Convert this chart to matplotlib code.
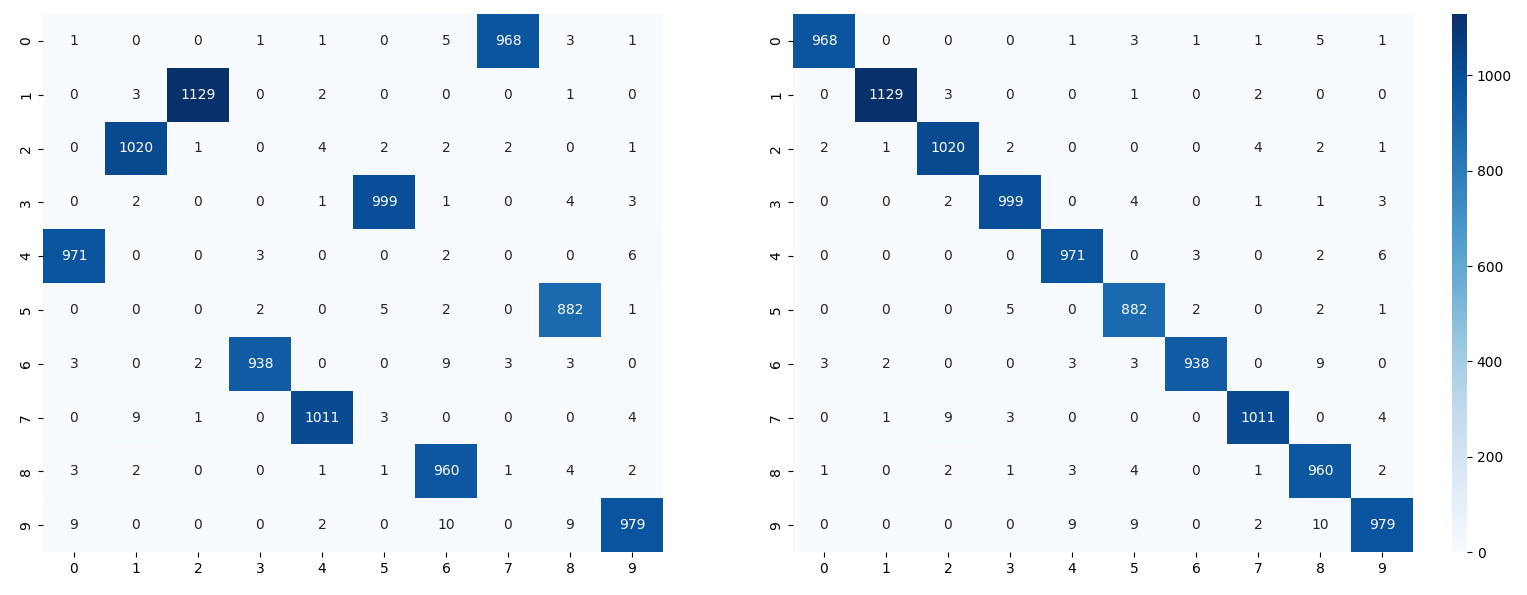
import numpy as np
import matplotlib
matplotlib.use("Agg")
import matplotlib.pyplot as plt
import seaborn as sns

labels = list(range(10))

left_matrix = [
    [1, 0, 0, 1, 1, 0, 5, 968, 3, 1],
    [0, 3, 1129, 0, 2, 0, 0, 0, 1, 0],
    [0, 1020, 1, 0, 4, 2, 2, 2, 0, 1],
    [0, 2, 0, 0, 1, 999, 1, 0, 4, 3],
    [971, 0, 0, 3, 0, 0, 2, 0, 0, 6],
    [0, 0, 0, 2, 0, 5, 2, 0, 882, 1],
    [3, 0, 2, 938, 0, 0, 9, 3, 3, 0],
    [0, 9, 1, 0, 1011, 3, 0, 0, 0, 4],
    [3, 2, 0, 0, 1, 1, 960, 1, 4, 2],
    [9, 0, 0, 0, 2, 0, 10, 0, 9, 979],
]

right_matrix = [
    [968, 0, 0, 0, 1, 3, 1, 1, 5, 1],
    [0, 1129, 3, 0, 0, 1, 0, 2, 0, 0],
    [2, 1, 1020, 2, 0, 0, 0, 4, 2, 1],
    [0, 0, 2, 999, 0, 4, 0, 1, 1, 3],
    [0, 0, 0, 0, 971, 0, 3, 0, 2, 6],
    [0, 0, 0, 5, 0, 882, 2, 0, 2, 1],
    [3, 2, 0, 0, 3, 3, 938, 0, 9, 0],
    [0, 1, 9, 3, 0, 0, 0, 1011, 0, 4],
    [1, 0, 2, 1, 3, 4, 0, 1, 960, 2],
    [0, 0, 0, 0, 9, 9, 0, 2, 10, 979],
]

fig = plt.figure(figsize=(15.27, 5.95), dpi=100)
ax1 = fig.add_axes([43/1527, 1-552/595, 620/1527, 538/595])
ax2 = fig.add_axes([793/1527, 1-552/595, 620/1527, 538/595])
cax = fig.add_axes([1452/1527, 1-552/595, 15/1527, 538/595])

sns.heatmap(np.array(left_matrix), annot=True, fmt='d', cmap='Blues', cbar=False,
            xticklabels=labels, yticklabels=labels, ax=ax1)
sns.heatmap(np.array(right_matrix), annot=True, fmt='d', cmap='Blues', cbar=True,
            cbar_ax=cax, xticklabels=labels, yticklabels=labels, ax=ax2)

fig.savefig("out.png", dpi=100)
